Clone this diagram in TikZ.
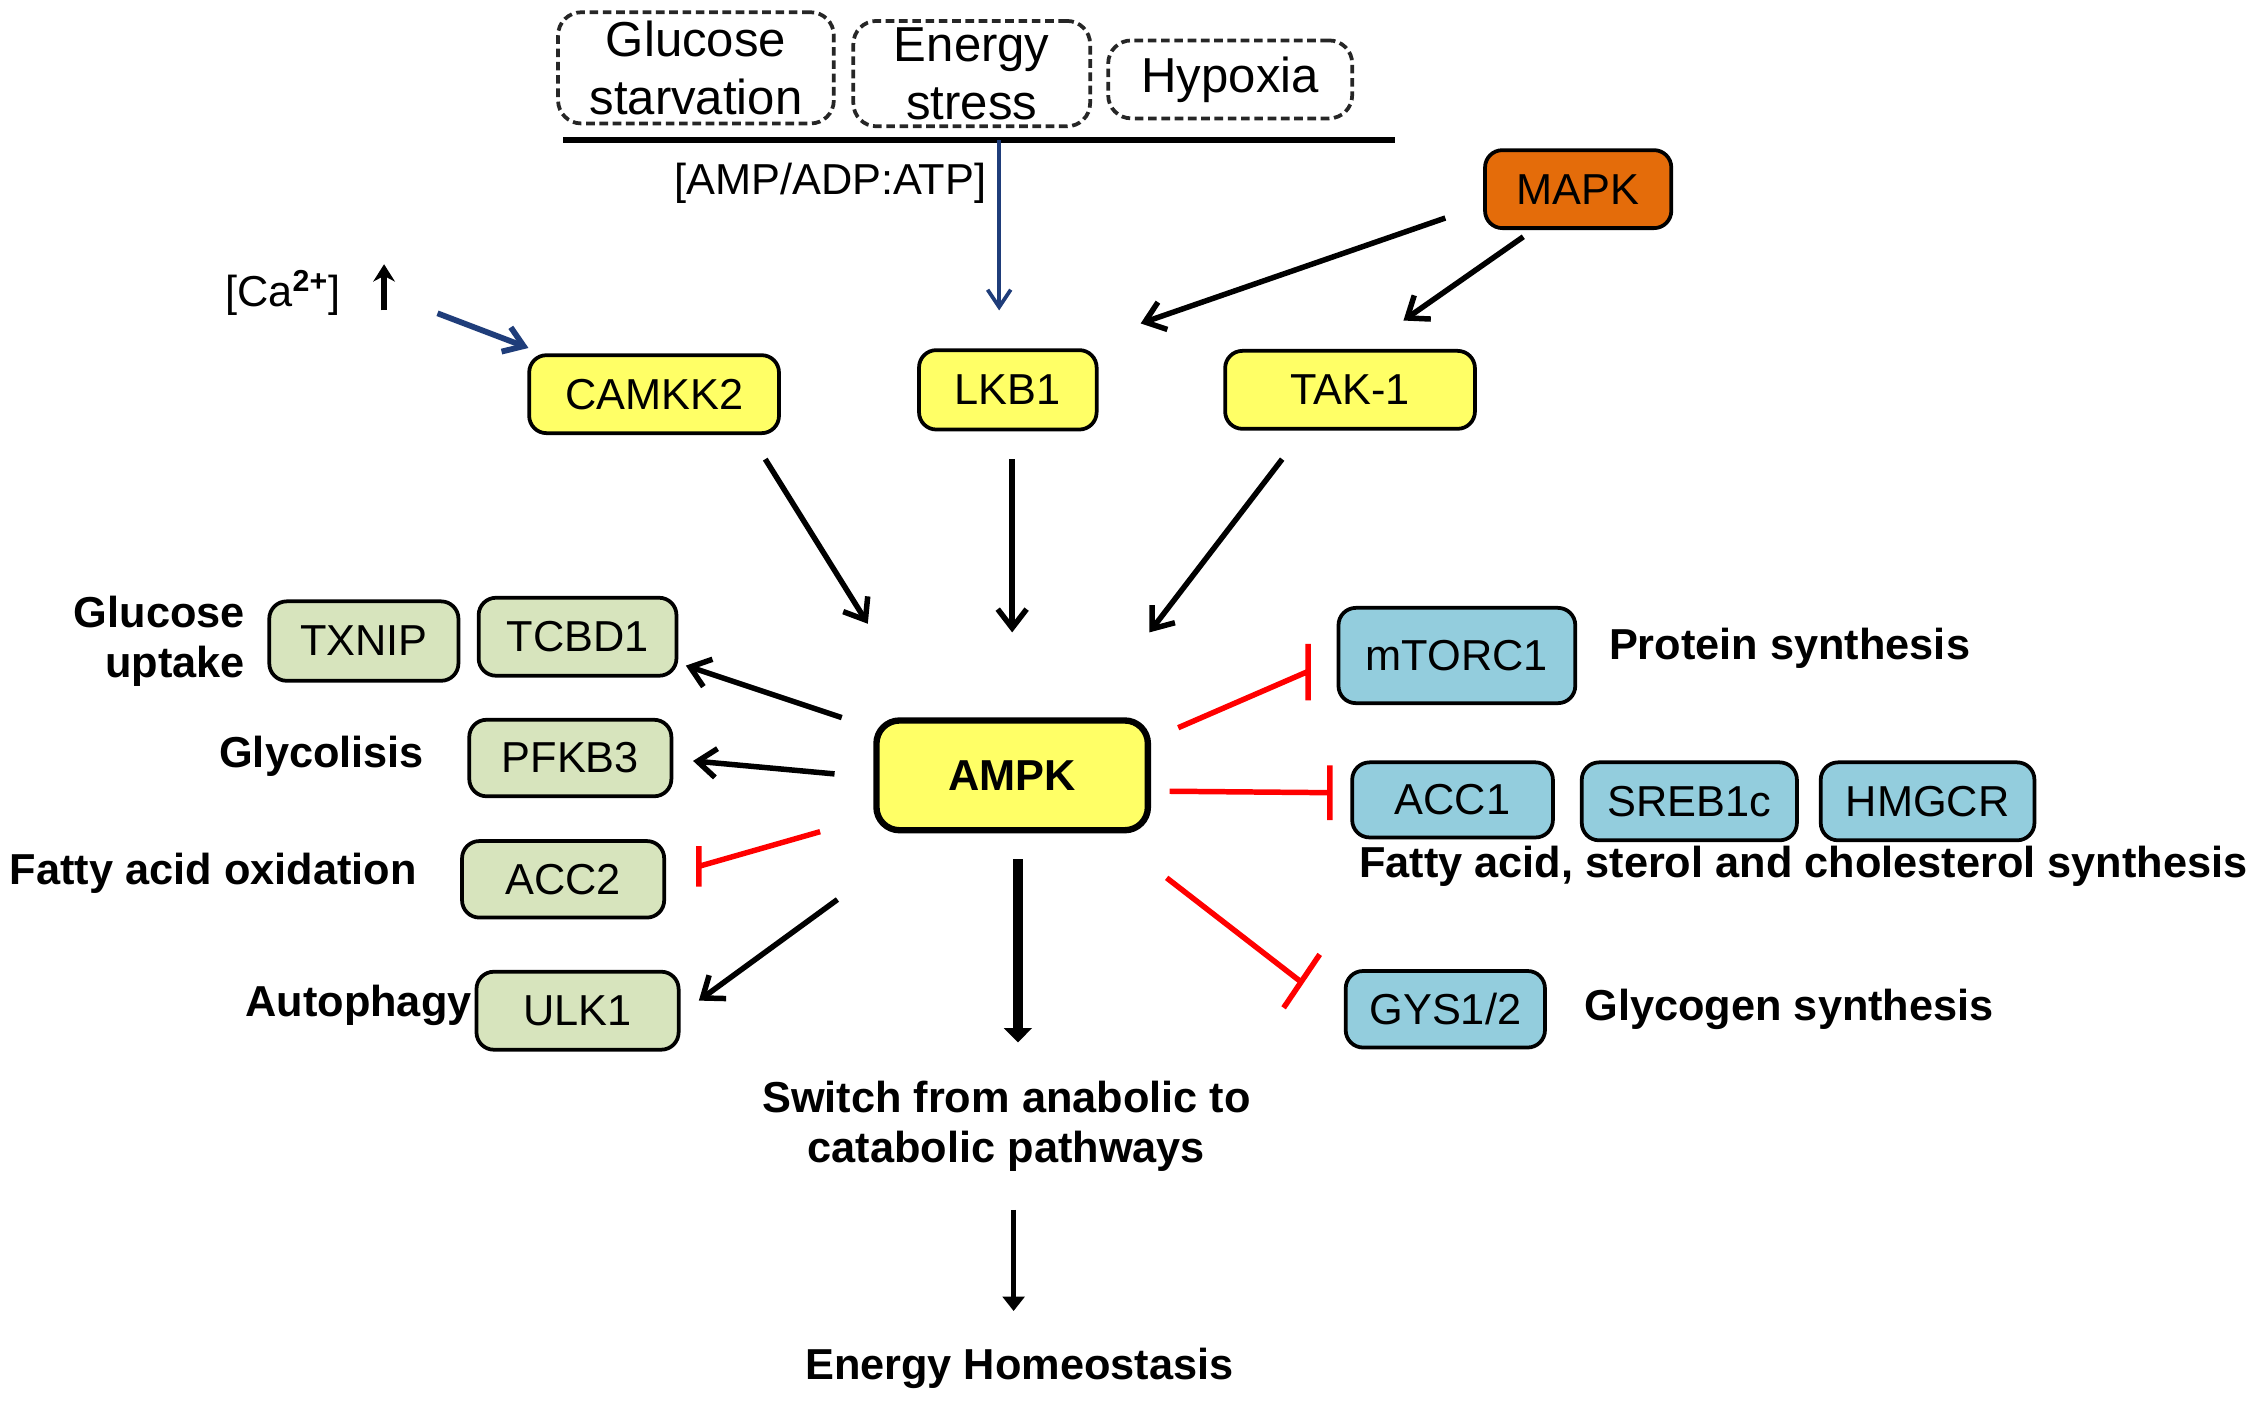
\documentclass[tikz,border=0pt]{standalone}
\usepackage{fontspec}
\setmainfont{Liberation Sans}
\usetikzlibrary{arrows.meta,calc}
\definecolor{ylw}{HTML}{FFFF66}
\definecolor{grn}{HTML}{D7E4BD}
\definecolor{blu}{HTML}{93CDDD}
\definecolor{org}{HTML}{E46C0A}
\definecolor{navy}{HTML}{1F3D7A}
\definecolor{inh}{HTML}{FF0000}
\begin{document}
\begin{tikzpicture}[x=0.5pt,y=-0.5pt,
 box/.style={draw=black, line width=1.3pt, rounded corners=6pt, inner sep=0pt, align=center, font=\fontsize{15}{17}\selectfont},
 ybox/.style={box, fill=ylw},
 gbox/.style={box, fill=grn},
 bbox/.style={box, fill=blu},
 dbox/.style={draw=black!85, dash pattern=on 3pt off 1.6pt, line width=1.3pt, rounded corners=8pt, inner sep=0pt, align=center, font=\fontsize{17}{20}\selectfont},
 lbl/.style={font=\bfseries\fontsize{15}{17.5}\selectfont, inner sep=0pt},
 act/.style={draw=black, line width=1.9pt, -{Straight Barb[length=6.5pt,width=10pt,line width=1.9pt]}},
 bact/.style={draw=navy, line width=2pt, -{Straight Barb[length=6.5pt,width=9pt,line width=2pt]}},
 inhib/.style={draw=inh, line width=1.9pt},
]
\useasboundingbox[fill=white] (0,0) rectangle (1568,972);

% stress signals
\node[dbox, minimum width=95.5pt, minimum height=38.5pt] (gst) at (482,47) {Glucose\\starvation};
\node[dbox, minimum width=82pt, minimum height=36.5pt] (est) at (673,51) {Energy\\stress};
\node[dbox, minimum width=84.5pt, minimum height=27pt] (hyp) at (852,55) {Hypoxia};
\coordinate (barL) at (390,97);
\coordinate (barR) at (966,97);
\coordinate (barM) at (692,97);
\draw[line width=2pt] (barL) -- (barR);
\node[inner sep=0pt, font=\fontsize{15}{17}\selectfont] (ratio) at (575,127) {[AMP/ADP:ATP]};

% upstream kinases
\node[ybox, minimum width=86.5pt, minimum height=27pt] (camkk) at (453,273) {CAMKK2};
\node[ybox, minimum width=61.5pt, minimum height=27.5pt] (lkb) at (698,270) {LKB1};
\node[ybox, minimum width=86.5pt, minimum height=27pt] (tak) at (935,270) {TAK-1};
\node[box, fill=org, minimum width=64.5pt, minimum height=27pt] (mapk) at (1093,131) {MAPK};
\node[inner sep=0pt, font=\fontsize{15}{17}\selectfont] (ca) at (196,203) {[Ca\textsuperscript{\textbf{2+}}]};

% AMPK
\node[ybox, line width=2.2pt, rounded corners=8pt, minimum width=94pt, minimum height=38pt, font=\bfseries\fontsize{15}{17}\selectfont] (ampk) at (701,537) {AMPK};

% left targets
\node[gbox, minimum width=65.5pt, minimum height=27.5pt] (txnip) at (252,444) {TXNIP};
\node[gbox, minimum width=68.5pt, minimum height=27pt] (tcbd) at (400,441) {TCBD1};
\node[gbox, minimum width=70pt, minimum height=26.5pt] (pfkb) at (395,525) {PFKB3};
\node[gbox, minimum width=70pt, minimum height=26.5pt] (acc2) at (390,609) {ACC2};
\node[gbox, minimum width=70pt, minimum height=27pt] (ulk) at (400,700) {ULK1};
\node[lbl, align=right, anchor=east] (gup) at (170,444) {Glucose\\uptake};
\node[lbl, anchor=east] (gly) at (294,524) {Glycolisis};
\node[lbl, anchor=east] (fao) at (289,605) {Fatty acid oxidation};
\node[lbl, anchor=east] (aut) at (327,696) {Autophagy};

% right targets
\node[bbox, minimum width=82pt, minimum height=33pt] (mtor) at (1009,454) {mTORC1};
\node[bbox, minimum width=69.5pt, minimum height=26pt] (acc1) at (1006,554) {ACC1};
\node[bbox, minimum width=74.5pt, minimum height=27pt] (sreb) at (1170,555) {SREB1c};
\node[bbox, minimum width=74pt, minimum height=27pt] (hmgcr) at (1335,555) {HMGCR};
\node[bbox, minimum width=69pt, minimum height=26.5pt] (gys) at (1001,699) {GYS1/2};
\node[lbl, anchor=west] (psyn) at (1114,449) {Protein synthesis};
\node[lbl, anchor=west] (fsyn) at (941,600) {Fatty acid, sterol and cholesterol synthesis};
\node[lbl, anchor=west] (gsyn) at (1097,699) {Glycogen synthesis};

% outcome
\node[lbl, align=center] (sw) at (697,780) {Switch from anabolic to\\catabolic pathways};
\node[lbl] (eh) at (706,948) {Energy Homeostasis};

% connectors: upstream
\draw[draw=navy, line width=1.3pt, -{Straight Barb[length=6pt,width=8pt,line width=1.3pt]}] (barM) -- ($(lkb)+(-6,-55)$);
\draw[bact] ($(ca)+(107,14)$) -- ($(camkk)+(-87,-32)$);
\draw[draw=black, line width=2pt, -{Stealth[length=6pt,width=7.5pt]}] ($(ca)+(70,12)$) -- ($(ca)+(70,-20)$);
\draw[act] ($(mapk)+(-92,20)$) -- ($(lkb)+(92,-46)$);
\draw[act] ($(mapk)+(-38,33)$) -- ($(tak)+(37,-48)$);
\draw[act] ($(camkk)+(77,45)$) -- ($(ampk)+(-100,-105)$);
\draw[act] ($(lkb)+(3,48)$) -- ($(ampk)+(0,-99)$);
\draw[act] ($(tak)+(-47,48)$) -- ($(ampk)+(95,-99)$);

% connectors: left
\draw[act] ($(ampk)+(-118,-40)$) -- ($(tcbd)+(75,20)$);
\draw[act] ($(ampk)+(-123,-1)$) -- ($(pfkb)+(85,2)$);
\draw[inhib] ($(ampk)+(-133,39)$) -- ($(acc2)+(94,-9)$)
  ($(acc2)+(94,-23)$) -- ($(acc2)+(94,5)$);
\draw[act] ($(ampk)+(-121,86)$) -- ($(ulk)+(84,-7)$);

% connectors: right
\draw[inhib] ($(ampk)+(115,-33)$) -- ($(mtor)+(-103,11)$)
  ($(mtor)+(-103,-8)$) -- ($(mtor)+(-103,31)$);
\draw[inhib] ($(ampk)+(109,11)$) -- ($(acc1)+(-85,-5)$)
  ($(acc1)+(-85,-24)$) -- ($(acc1)+(-85,14)$);
\draw[inhib] ($(ampk)+(107,71)$) -- ($(gys)+(-100,-19)$)
  ($(gys)+(-87,-38)$) -- ($(gys)+(-112,-1)$);

% connectors: down
\draw[draw=black, line width=3.2pt, -{Triangle[length=5pt,width=9.5pt]}] ($(ampk)+(4,58)$) -- ($(ampk)+(4,185)$);
\draw[draw=black, line width=1.6pt, -{Triangle[length=5pt,width=7.5pt]}] ($(sw)+(5,58)$) -- ($(sw)+(5,128)$);
\end{tikzpicture}
\end{document}
